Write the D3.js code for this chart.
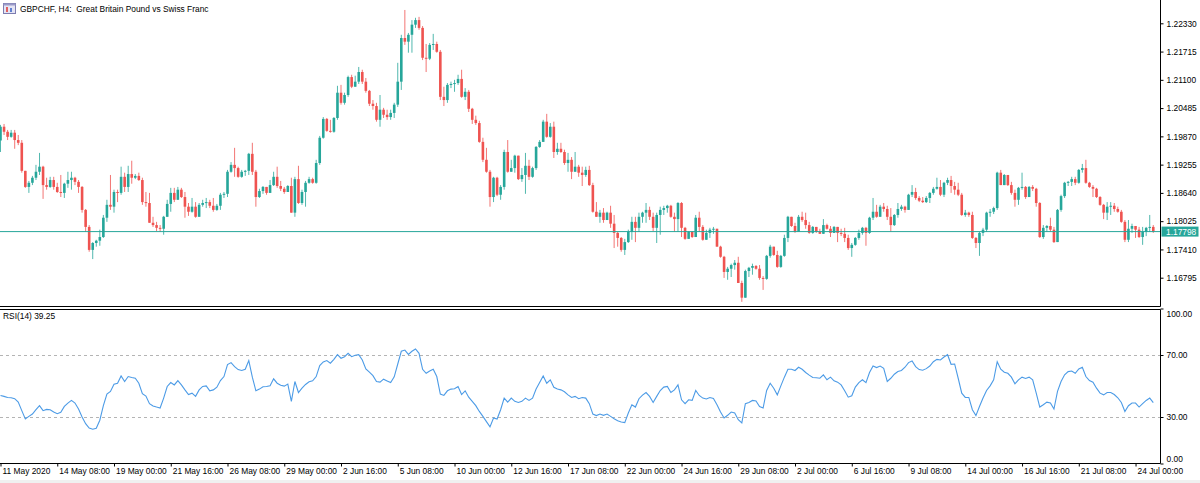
<!DOCTYPE html>
<html>
<head>
<meta charset="utf-8">
<script src="https://cdn.jsdelivr.net/npm/d3@7/dist/d3.min.js"></script>
<style>
  body { margin: 0; background: #fff; }
  svg text { font-family: "Liberation Sans", Arial, sans-serif; font-size: 8.4px; fill: #000; }
</style>
</head>
<body>
<svg id="chart" width="1200" height="483"></svg>
<script>
const chartTitle = 'GBPCHF, H4:  Great Britain Pound vs Swiss Franc';
const rsiTitle = 'RSI(14) 39.25';
const lastPrice = 1.17798;

// x axis labels, one every 16 bars
const timeLabels = ['11 May 2020', '14 May 08:00', '19 May 00:00', '21 May 16:00', '26 May 08:00',
  '29 May 00:00', '2 Jun 16:00', '5 Jun 08:00', '10 Jun 00:00', '12 Jun 16:00', '17 Jun 08:00',
  '22 Jun 00:00', '24 Jun 16:00', '29 Jun 08:00', '2 Jul 00:00', '6 Jul 16:00', '9 Jul 08:00',
  '14 Jul 00:00', '16 Jul 16:00', '21 Jul 08:00', '24 Jul 00:00'];

const priceTicks = [1.22330, 1.21715, 1.21100, 1.20485, 1.19870, 1.19255, 1.18640, 1.18025, 1.17410, 1.16795];
const rsiTicks = [100, 70, 30, 0];
const rsiLevels = [30, 70];

// H4 candles: open of each bar is the previous close
const firstOpen = 1.1978;
const closes = [
  1.2008,1.1997,1.1986,1.1995,1.1979,1.1973,1.1912,1.1877,1.1886,1.1897,
  1.1910,1.1921,1.1881,1.1877,1.1892,1.1877,1.1866,1.1864,1.1884,1.1892,
  1.1897,1.1888,1.1877,1.1827,1.1790,1.1740,1.1755,1.1760,1.1768,1.1810,
  1.1838,1.1834,1.1866,1.1864,1.1899,1.1877,1.1905,1.1897,1.1901,1.1892,
  1.1844,1.1842,1.1799,1.1794,1.1788,1.1786,1.1812,1.1840,1.1864,1.1849,
  1.1871,1.1855,1.1834,1.1823,1.1834,1.1812,1.1838,1.1842,1.1844,1.1836,
  1.1827,1.1836,1.1860,1.1862,1.1910,1.1925,1.1918,1.1899,1.1910,1.1912,
  1.1949,1.1910,1.1855,1.1868,1.1877,1.1864,1.1881,1.1899,1.1879,1.1873,
  1.1866,1.1879,1.1821,1.1894,1.1842,1.1866,1.1886,1.1894,1.1886,1.1929,
  1.1984,1.2025,1.1999,1.1997,1.2027,1.2082,1.2060,1.2077,1.2116,1.2095,
  1.2106,1.2127,1.2106,1.2086,1.2058,1.2053,1.2023,1.2045,1.2034,1.2029,
  1.2038,1.2056,1.2106,1.2201,1.2193,1.2208,1.2230,1.2240,1.2223,1.2158,
  1.2156,1.2186,1.2188,1.2171,1.2073,1.2066,1.2099,1.2101,1.2103,1.2112,
  1.2073,1.2084,1.2047,1.2023,1.2016,1.1975,1.1936,1.1910,1.1855,1.1897,
  1.1860,1.1877,1.1953,1.1910,1.1918,1.1945,1.1894,1.1903,1.1923,1.1899,
  1.1918,1.1964,1.1975,1.2019,1.1986,1.2008,1.1953,1.1960,1.1953,1.1929,
  1.1936,1.1910,1.1921,1.1908,1.1903,1.1914,1.1881,1.1823,1.1812,1.1821,
  1.1805,1.1821,1.1797,1.1777,1.1766,1.1740,1.1757,1.1779,1.1801,1.1788,
  1.1812,1.1821,1.1827,1.1812,1.1788,1.1816,1.1827,1.1831,1.1836,1.1812,
  1.1807,1.1842,1.1788,1.1764,1.1779,1.1768,1.1810,1.1790,1.1762,1.1777,
  1.1784,1.1786,1.1747,1.1725,1.1692,1.1699,1.1707,1.1712,1.1668,1.1636,
  1.1694,1.1701,1.1705,1.1699,1.1679,1.1677,1.1727,1.1747,1.1729,1.1703,
  1.1727,1.1766,1.1812,1.1792,1.1779,1.1812,1.1805,1.1794,1.1777,1.1790,
  1.1779,1.1775,1.1794,1.1786,1.1777,1.1790,1.1777,1.1775,1.1766,1.1744,
  1.1751,1.1766,1.1777,1.1788,1.1777,1.1810,1.1823,1.1812,1.1834,1.1829,
  1.1812,1.1794,1.1816,1.1829,1.1834,1.1827,1.1860,1.1866,1.1853,1.1847,
  1.1844,1.1853,1.1864,1.1873,1.1877,1.1860,1.1886,1.1892,1.1879,1.1871,
  1.1860,1.1816,1.1821,1.1816,1.1766,1.1755,1.1777,1.1784,1.1821,1.1823,
  1.1831,1.1908,1.1881,1.1903,1.1881,1.1864,1.1849,1.1875,1.1877,1.1855,
  1.1877,1.1873,1.1842,1.1768,1.1788,1.1792,1.1784,1.1757,1.1827,1.1857,
  1.1886,1.1888,1.1894,1.1886,1.1914,1.1918,1.1886,1.1877,1.1873,1.1855,
  1.1838,1.1821,1.1834,1.1836,1.1829,1.1823,1.1801,1.1762,1.1786,1.1792,
  1.1784,1.1768,1.1779,1.1788,1.1790,1.17798
];
const highs = [
  1.2012,1.2014,1.2001,1.2001,1.2001,1.1990,1.1979,1.1912,1.1890,1.1901,
  1.1925,1.1951,1.1923,1.1897,1.1899,1.1899,1.1886,1.1903,1.1886,1.1910,
  1.1910,1.1899,1.1892,1.1879,1.1829,1.1794,1.1757,1.1762,1.1784,1.1816,
  1.1849,1.1903,1.1871,1.1871,1.1921,1.1908,1.1923,1.1934,1.1905,1.1908,
  1.1897,1.1866,1.1864,1.1812,1.1801,1.1794,1.1814,1.1849,1.1875,1.1875,
  1.1877,1.1875,1.1866,1.1842,1.1853,1.1844,1.1842,1.1849,1.1853,1.1849,
  1.1853,1.1840,1.1864,1.1866,1.1914,1.1931,1.1962,1.1921,1.1914,1.1914,
  1.1951,1.1973,1.1914,1.1873,1.1879,1.1877,1.1892,1.1910,1.1921,1.1890,
  1.1877,1.1881,1.1897,1.1899,1.1923,1.1871,1.1890,1.1899,1.1897,1.1936,
  1.1988,1.2029,1.2027,1.2023,1.2029,1.2097,1.2099,1.2082,1.2119,1.2121,
  1.2119,1.2138,1.2132,1.2114,1.2088,1.2066,1.2060,1.2077,1.2049,1.2045,
  1.2045,1.2060,1.2147,1.2208,1.2262,1.2212,1.2240,1.2245,1.2247,1.2227,
  1.2188,1.2190,1.2210,1.2193,1.2175,1.2095,1.2103,1.2106,1.2110,1.2121,
  1.2132,1.2092,1.2088,1.2049,1.2032,1.2021,1.1984,1.1962,1.1914,1.1899,
  1.1899,1.1881,1.1958,1.1979,1.1936,1.1947,1.1934,1.1918,1.1951,1.1936,
  1.1921,1.1966,1.1979,1.2023,1.2036,1.2016,1.2019,1.1973,1.1973,1.1958,
  1.1951,1.1942,1.1953,1.1925,1.1921,1.1921,1.1923,1.1886,1.1844,1.1827,
  1.1831,1.1823,1.1836,1.1816,1.1779,1.1768,1.1764,1.1784,1.1812,1.1812,
  1.1821,1.1823,1.1842,1.1834,1.1821,1.1821,1.1834,1.1836,1.1838,1.1838,
  1.1821,1.1844,1.1844,1.1790,1.1781,1.1781,1.1816,1.1823,1.1794,1.1784,
  1.1788,1.1790,1.1786,1.1749,1.1727,1.1703,1.1710,1.1718,1.1725,1.1673,
  1.1697,1.1703,1.1710,1.1707,1.1707,1.1683,1.1729,1.1751,1.1744,1.1738,
  1.1729,1.1773,1.1814,1.1812,1.1799,1.1816,1.1823,1.1821,1.1801,1.1792,
  1.1790,1.1786,1.1807,1.1797,1.1792,1.1792,1.1790,1.1786,1.1788,1.1773,
  1.1755,1.1768,1.1784,1.1790,1.1790,1.1812,1.1853,1.1838,1.1838,1.1842,
  1.1836,1.1831,1.1818,1.1842,1.1838,1.1836,1.1862,1.1881,1.1875,1.1857,
  1.1855,1.1857,1.1866,1.1877,1.1897,1.1892,1.1888,1.1897,1.1901,1.1888,
  1.1886,1.1864,1.1827,1.1823,1.1823,1.1768,1.1779,1.1788,1.1823,1.1829,
  1.1834,1.1910,1.1914,1.1905,1.1890,1.1888,1.1871,1.1877,1.1908,1.1879,
  1.1879,1.1881,1.1875,1.1844,1.1794,1.1794,1.1810,1.1790,1.1829,1.1860,
  1.1888,1.1890,1.1899,1.1899,1.1916,1.1927,1.1936,1.1888,1.1881,1.1875,
  1.1857,1.1840,1.1844,1.1844,1.1842,1.1834,1.1827,1.1805,1.1805,1.1797,
  1.1792,1.1790,1.1790,1.1790,1.1816,1.1794
];
const lows = [
  1.1953,1.1990,1.1979,1.1984,1.1960,1.1968,1.1908,1.1875,1.1864,1.1881,
  1.1892,1.1903,1.1851,1.1871,1.1875,1.1871,1.1864,1.1855,1.1853,1.1875,
  1.1871,1.1881,1.1864,1.1821,1.1779,1.1736,1.1720,1.1747,1.1749,1.1766,
  1.1801,1.1827,1.1821,1.1844,1.1860,1.1866,1.1866,1.1884,1.1894,1.1890,
  1.1838,1.1834,1.1799,1.1790,1.1781,1.1779,1.1773,1.1812,1.1823,1.1844,
  1.1851,1.1853,1.1810,1.1814,1.1821,1.1810,1.1812,1.1834,1.1831,1.1831,
  1.1823,1.1825,1.1827,1.1853,1.1855,1.1908,1.1899,1.1897,1.1897,1.1901,
  1.1903,1.1903,1.1834,1.1853,1.1862,1.1860,1.1864,1.1879,1.1875,1.1868,
  1.1862,1.1866,1.1821,1.1812,1.1840,1.1838,1.1834,1.1884,1.1884,1.1884,
  1.1925,1.1982,1.1997,1.1995,1.1995,1.2023,1.2056,1.2056,1.2073,1.2092,
  1.2095,1.2101,1.2101,1.2082,1.2053,1.2045,1.2019,1.2008,1.2027,1.2023,
  1.2023,1.2027,1.2051,1.2088,1.2186,1.2169,1.2169,1.2223,1.2219,1.2153,
  1.2127,1.2153,1.2175,1.2169,1.2066,1.2053,1.2060,1.2092,1.2084,1.2099,
  1.2071,1.2066,1.2040,1.2014,1.2012,1.1973,1.1931,1.1908,1.1834,1.1844,
  1.1857,1.1849,1.1871,1.1908,1.1910,1.1908,1.1892,1.1888,1.1862,1.1892,
  1.1897,1.1914,1.1962,1.1975,1.1984,1.1984,1.1940,1.1947,1.1951,1.1925,
  1.1910,1.1894,1.1910,1.1899,1.1879,1.1899,1.1879,1.1821,1.1812,1.1799,
  1.1799,1.1805,1.1788,1.1744,1.1747,1.1736,1.1729,1.1755,1.1762,1.1757,
  1.1779,1.1799,1.1799,1.1805,1.1781,1.1755,1.1773,1.1816,1.1821,1.1810,
  1.1779,1.1779,1.1768,1.1762,1.1766,1.1766,1.1768,1.1779,1.1760,1.1762,
  1.1766,1.1775,1.1747,1.1723,1.1679,1.1675,1.1681,1.1697,1.1668,1.1627,
  1.1636,1.1681,1.1686,1.1697,1.1675,1.1653,1.1675,1.1723,1.1727,1.1701,
  1.1701,1.1725,1.1757,1.1790,1.1777,1.1792,1.1801,1.1786,1.1775,1.1775,
  1.1777,1.1775,1.1775,1.1784,1.1768,1.1777,1.1757,1.1770,1.1757,1.1740,
  1.1725,1.1749,1.1762,1.1773,1.1749,1.1775,1.1805,1.1810,1.1812,1.1823,
  1.1805,1.1779,1.1792,1.1810,1.1825,1.1821,1.1827,1.1855,1.1849,1.1844,
  1.1842,1.1842,1.1842,1.1860,1.1871,1.1857,1.1855,1.1881,1.1864,1.1860,
  1.1857,1.1814,1.1812,1.1812,1.1764,1.1744,1.1727,1.1770,1.1779,1.1812,
  1.1818,1.1827,1.1881,1.1881,1.1879,1.1860,1.1834,1.1838,1.1871,1.1851,
  1.1855,1.1868,1.1834,1.1766,1.1764,1.1779,1.1779,1.1755,1.1757,1.1823,
  1.1853,1.1879,1.1879,1.1881,1.1884,1.1908,1.1884,1.1875,1.1855,1.1853,
  1.1836,1.1807,1.1805,1.1816,1.1823,1.1821,1.1799,1.1757,1.1757,1.1777,
  1.1766,1.1766,1.1751,1.1770,1.1779,1.1777
];

// RSI(14)
const rsiValues = [
  43.9,43.3,42.6,42.4,41.8,39.6,34.1,28.7,30.4,31.9,
  34.7,37.3,34.1,34.9,34.7,33.2,32.1,33.0,36.8,39.0,
  40.7,39.0,35.1,30.0,25.7,22.9,22.1,22.7,27.9,37.3,
  44.8,46.5,51.2,51.8,56.5,52.9,56.1,55.5,55.0,51.8,
  45.0,43.5,38.6,37.1,36.4,35.8,42.2,49.7,52.2,50.7,
  53.5,50.7,47.5,44.5,45.4,43.3,47.5,49.7,50.1,46.9,
  47.5,49.2,53.5,56.1,63.8,65.1,62.5,60.6,60.0,60.8,
  66.4,55.7,46.9,48.0,49.5,49.7,50.1,54.6,51.8,50.5,
  49.9,51.2,40.1,52.9,45.8,48.6,51.0,52.7,53.3,56.1,
  63.2,65.5,66.4,64.7,67.2,70.2,67.9,68.9,71.1,68.9,
  69.8,70.2,66.8,61.0,58.9,56.7,52.9,52.5,54.4,53.3,
  52.2,55.9,64.2,72.4,73.2,70.4,72.4,73.9,71.1,60.8,
  58.2,59.7,60.8,56.1,44.8,43.9,46.9,48.0,48.2,49.7,
  44.5,46.9,42.8,40.1,37.3,33.6,30.4,27.0,23.6,29.4,
  28.7,34.7,42.2,39.6,42.2,40.1,39.4,40.1,42.2,40.7,
  42.2,48.0,52.2,56.5,51.8,54.0,49.2,48.0,47.5,46.3,
  44.3,42.6,43.3,41.8,42.6,42.2,38.6,31.9,30.9,31.9,
  31.1,31.9,30.4,28.9,27.6,26.8,26.4,32.6,37.9,36.4,
  41.8,44.1,45.8,43.3,39.4,43.3,47.1,49.3,49.7,45.8,
  47.5,50.7,41.1,38.6,41.1,40.7,47.1,43.9,42.2,41.6,
  42.6,42.0,37.9,33.2,29.4,31.1,33.2,32.6,28.3,26.2,
  38.6,39.4,40.7,40.3,36.8,35.8,47.1,51.8,48.6,44.3,
  50.1,55.7,60.8,60.8,60.0,62.1,60.8,58.7,57.0,55.5,
  55.3,55.0,57.2,54.0,55.7,53.3,52.5,50.7,46.9,42.8,
  43.7,49.3,52.2,54.0,52.2,58.7,62.9,61.9,62.9,61.4,
  52.9,55.0,57.6,59.3,60.0,62.1,65.1,66.1,62.5,60.6,
  60.2,61.2,62.9,65.7,67.2,66.8,68.7,70.2,64.0,64.2,
  55.0,45.4,42.6,42.6,34.7,30.9,36.8,42.2,47.1,50.1,
  54.0,65.7,60.8,58.9,58.2,55.7,51.4,54.0,55.7,54.9,
  55.7,54.0,45.4,36.4,37.9,39.6,39.0,35.1,46.5,52.9,
  57.2,59.3,59.7,58.2,61.0,62.1,56.1,53.5,52.5,48.6,
  45.4,44.3,45.8,45.8,44.5,42.4,39.4,33.6,37.3,39.0,
  39.0,36.4,38.6,40.7,42.2,39.25
];

const upColor = '#26a69a';
const downColor = '#ef5350';

const plotRight = 1160;
const mainBottom = 306.5;
const rsiTop = 309.5;
const rsiBottom = 463.5;

const svg = d3.select('#chart');

const xScale = d3.scaleLinear()
  .domain([0, closes.length - 1])
  .range([0.5, 0.5 + (closes.length - 1) * 3.547]);

const yScale = d3.scaleLinear()
  .domain([1.16795, 1.22330])
  .range([277.7, 23.3]);

const rsiScale = d3.scaleLinear()
  .domain([0, 100])
  .range([rsiBottom, rsiTop - 1]);

const candles = closes.map((c, i) => {
  const o = i === 0 ? firstOpen : closes[i - 1];
  return {
    i, o, c,
    h: Math.max(highs[i], o, c),
    l: Math.min(lows[i], o, c),
    up: c >= o
  };
});

svg.append('defs').append('clipPath').attr('id', 'mainClip')
  .append('rect').attr('x', 0).attr('y', 0).attr('width', plotRight).attr('height', mainBottom);

// title + small icon
const icon = svg.append('g').attr('transform', 'translate(3,3)');
icon.append('rect').attr('x', 0.5).attr('y', 0.5).attr('width', 12).attr('height', 10)
  .attr('fill', '#e4e4f4').attr('stroke', '#7c7cb0');
icon.append('rect').attr('x', 0.5).attr('y', 0.5).attr('width', 12).attr('height', 2).attr('fill', '#9a9ac8');
icon.append('rect').attr('x', 3).attr('y', 4).attr('width', 2).attr('height', 5).attr('fill', '#e06060');
icon.append('rect').attr('x', 7).attr('y', 5).attr('width', 2).attr('height', 4).attr('fill', '#6080d0');

svg.append('text')
  .attr('x', 20).attr('y', 11.5)
  .style('white-space', 'pre')
  .text(chartTitle);

// candles
const candleG = svg.append('g').attr('clip-path', 'url(#mainClip)');

candleG.selectAll('line.wick')
  .data(candles)
  .join('line')
  .attr('class', 'wick')
  .attr('x1', d => xScale(d.i))
  .attr('x2', d => xScale(d.i))
  .attr('y1', d => yScale(d.h))
  .attr('y2', d => yScale(d.l))
  .attr('stroke', d => d.up ? upColor : downColor)
  .attr('stroke-opacity', 0.8)
  .attr('stroke-width', 1);

candleG.selectAll('rect.body')
  .data(candles)
  .join('rect')
  .attr('class', 'body')
  .attr('x', d => xScale(d.i) - 1.3)
  .attr('width', 2.6)
  .attr('y', d => yScale(Math.max(d.o, d.c)))
  .attr('height', d => Math.max(1, Math.abs(yScale(d.o) - yScale(d.c))))
  .attr('fill', d => d.up ? upColor : downColor);

// last price line
svg.append('line')
  .attr('x1', 0).attr('x2', plotRight)
  .attr('y1', yScale(lastPrice)).attr('y2', yScale(lastPrice))
  .attr('stroke', upColor).attr('stroke-width', 1);

// price axis on the right
const priceAxis = svg.append('g')
  .attr('transform', `translate(${plotRight + 0.5},0)`)
  .call(d3.axisRight(yScale).tickValues(priceTicks).tickFormat(d3.format('.5f')).tickSize(3).tickPadding(3));
priceAxis.select('.domain').remove();
priceAxis.selectAll('line').attr('stroke', '#000');
priceAxis.selectAll('text').attr('font-family', null).attr('font-size', null);

// last price box
const boxY = yScale(lastPrice);
svg.append('rect')
  .attr('x', plotRight + 1.5).attr('y', boxY - 5)
  .attr('width', 37).attr('height', 10)
  .attr('fill', upColor);
svg.append('text')
  .attr('x', plotRight + 6).attr('y', boxY + 3)
  .style('fill', '#fff')
  .text(d3.format('.5f')(lastPrice));

// RSI pane
svg.append('text').attr('x', 3).attr('y', 319).text(rsiTitle);

svg.selectAll('line.level')
  .data(rsiLevels)
  .join('line')
  .attr('class', 'level')
  .attr('x1', 0).attr('x2', plotRight)
  .attr('y1', d => rsiScale(d) + 0.5).attr('y2', d => rsiScale(d) + 0.5)
  .attr('stroke', '#b4b4b4')
  .attr('stroke-dasharray', '3,3');

svg.append('path')
  .datum(rsiValues)
  .attr('fill', 'none')
  .attr('stroke', '#4c9be6')
  .attr('stroke-width', 1.1)
  .attr('d', d3.line().x((d, i) => xScale(i)).y(d => rsiScale(d)));

const rsiAxis = svg.append('g')
  .attr('transform', `translate(${plotRight + 0.5},0)`)
  .call(d3.axisRight(rsiScale).tickValues(rsiTicks).tickFormat(d3.format('.2f')).tickSize(3).tickPadding(3));
rsiAxis.select('.domain').remove();
rsiAxis.selectAll('line').attr('stroke', '#000');
rsiAxis.selectAll('text').attr('font-family', null).attr('font-size', null)
  .attr('dy', d => d === 100 ? '0.95em' : d === 0 ? '-0.2em' : '0.32em');

// time axis
const timeAxis = svg.append('g')
  .attr('transform', `translate(0,${rsiBottom})`)
  .call(d3.axisBottom(xScale)
    .tickValues(d3.range(0, timeLabels.length * 16, 16))
    .tickFormat((d, k) => timeLabels[k])
    .tickSize(3).tickPadding(2));
timeAxis.select('.domain').remove();
timeAxis.selectAll('line').attr('stroke', '#000');
timeAxis.selectAll('text')
  .attr('font-family', null).attr('font-size', null)
  .attr('text-anchor', 'start')
  .attr('dx', 1.5);

// frames
const frame = svg.append('g').attr('stroke', '#000').attr('stroke-width', 1).attr('fill', 'none');
frame.append('line').attr('x1', 0).attr('x2', plotRight + 0.5).attr('y1', mainBottom).attr('y2', mainBottom);
frame.append('line').attr('x1', 0).attr('x2', plotRight + 0.5).attr('y1', rsiTop).attr('y2', rsiTop);
frame.append('line').attr('x1', 0).attr('x2', plotRight + 0.5).attr('y1', rsiBottom).attr('y2', rsiBottom);
frame.append('line').attr('x1', plotRight + 0.5).attr('x2', plotRight + 0.5).attr('y1', 0).attr('y2', mainBottom);
frame.append('line').attr('x1', plotRight + 0.5).attr('x2', plotRight + 0.5).attr('y1', rsiTop).attr('y2', rsiBottom);

svg.append('rect').attr('x', 0).attr('y', 480).attr('width', 1200).attr('height', 3).attr('fill', '#f0f0f0');
</script>
</body>
</html>
